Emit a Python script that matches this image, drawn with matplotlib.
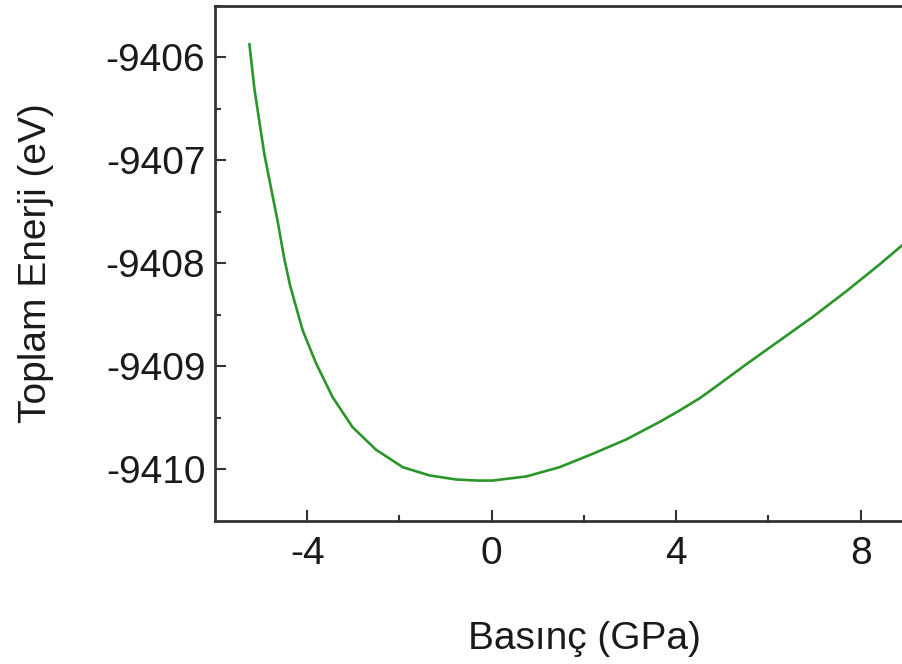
import matplotlib
matplotlib.use("Agg")
import matplotlib.pyplot as plt

plt.rcParams['font.family'] = ['Liberation Sans', 'DejaVu Sans']

pressure = [-5.256, -5.147, -5.039, -4.930, -4.785, -4.642, -4.50, -4.37, -4.10,
            -3.81, -3.45, -3.02, -2.51, -1.93, -1.35, -0.77, -0.30, 0.02, 0.75,
            1.47, 2.19, 2.92, 3.64, 4.07, 4.51, 4.79, 5.52, 6.24, 6.96, 7.69,
            8.41, 8.91]
energy = [-9405.86, -9406.30, -9406.62, -9406.94, -9407.27, -9407.59, -9407.95,
          -9408.22, -9408.65, -9408.97, -9409.30, -9409.59, -9409.81, -9409.98,
          -9410.06, -9410.10, -9410.11, -9410.11, -9410.07, -9409.98, -9409.85,
          -9409.71, -9409.54, -9409.43, -9409.31, -9409.22, -9408.98, -9408.75,
          -9408.52, -9408.27, -9408.01, -9407.82]
xticks = [-4, 0, 4, 8]
yticks = [-9406, -9407, -9408, -9409, -9410]

ink = '#1a1a1a'
fig = plt.figure(figsize=(9.03, 6.64), dpi=100)
# axes extend past the right edge of the picture (cropped figure)
ax = fig.add_axes([215/903, 143.3/664, (953-215)/903, (520.7-6)/664])
ax.plot(pressure, energy, color='#2a962a', lw=1.9, solid_joinstyle='round',
        solid_capstyle='butt')
ax.set_xlim(-6.0, 10.0)
ax.set_ylim(-9410.5, -9405.52)
ax.set_xticks(xticks)
ax.set_xticklabels([str(v) for v in xticks])
ax.set_yticks(yticks)
ax.set_yticklabels([str(v) for v in yticks])
ax.set_xticks([-2, 2, 6], minor=True)
ax.set_yticks([-9405.5, -9406.5, -9407.5, -9408.5, -9409.5], minor=True)
ax.tick_params(which='major', direction='in', length=8, width=1.5, labelsize=28,
               colors='#333333', labelcolor=ink)
ax.tick_params(which='minor', direction='in', length=4, width=1.5, colors='#333333')
ax.tick_params(axis='y', which='major', pad=7)
ax.tick_params(axis='x', which='major', pad=11)
for s in ['left', 'bottom', 'top', 'right']:
    ax.spines[s].set_linewidth(2.0)
    ax.spines[s].set_color('#333333')
ax.set_xlabel('Basınç (GPa)', fontsize=28, labelpad=35, color=ink)
ax.set_ylabel('Toplam Enerji (eV)', fontsize=28, labelpad=37, color=ink)
fig.savefig('out.png', dpi=100)
